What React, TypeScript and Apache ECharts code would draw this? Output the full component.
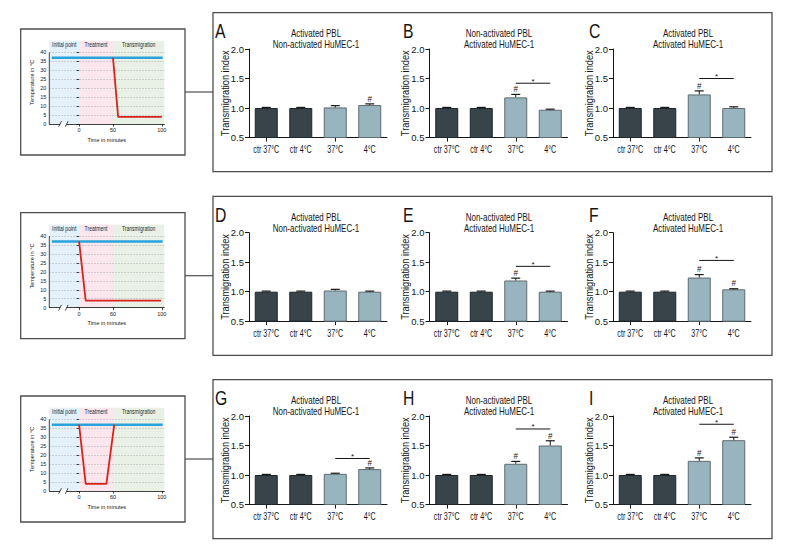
import React, { useEffect, useRef } from 'react';
import * as echarts from 'echarts';

// ---------- data ----------
const categories = ['ctr 37°C', 'ctr 4°C', '37°C', '4°C'];
const panelLetters = ['A', 'B', 'C', 'D', 'E', 'F', 'G', 'H', 'I'];
const titleTop = ['Activated PBL', 'Non-activated PBL', 'Activated PBL'];
const titleBottom = ['Non-activated HuMEC-1', 'Activated HuMEC-1', 'Activated HuMEC-1'];
const yTicks = [0.5, 1.0, 1.5, 2.0];

const meansA = [1.0, 1.0, 1.01, 1.05];
const meansB = [1.0, 1.0, 1.18, 0.97];
const meansC = [1.0, 1.0, 1.23, 1.0];
const meansD = [1.0, 1.0, 1.02, 1.0];
const meansE = [1.0, 1.0, 1.19, 1.0];
const meansF = [1.0, 1.0, 1.24, 1.04];
const meansG = [1.0, 1.0, 1.02, 1.1];
const meansH = [1.0, 1.0, 1.19, 1.5];
const meansI = [1.0, 1.0, 1.24, 1.59];

const errA = [0.01, 0.01, 0.03, 0.02];
const errB = [0.01, 0.01, 0.05, 0.01];
const errC = [0.01, 0.01, 0.06, 0.02];
const errD = [0.01, 0.01, 0.02, 0.01];
const errE = [0.01, 0.01, 0.04, 0.01];
const errF = [0.01, 0.01, 0.05, 0.01];
const errG = [0.01, 0.01, 0.01, 0.02];
const errH = [0.01, 0.01, 0.04, 0.08];
const errI = [0.01, 0.01, 0.05, 0.05];

const hashA = [0, 0, 0, 1];
const hashB = [0, 0, 1, 0];
const hashC = [0, 0, 1, 0];
const hashD = [0, 0, 0, 0];
const hashE = [0, 0, 1, 0];
const hashF = [0, 0, 1, 1];
const hashG = [0, 0, 0, 1];
const hashH = [0, 0, 1, 1];
const hashI = [0, 0, 1, 1];

// significance bar (37°C vs 4°C) level, null = none
const sigLevels = [null, 1.42, 1.5, null, 1.43, 1.53, 1.28, 1.78, 1.86];

const allMeans = [meansA, meansB, meansC, meansD, meansE, meansF, meansG, meansH, meansI];
const allErr = [errA, errB, errC, errD, errE, errF, errG, errH, errI];
const allHash = [hashA, hashB, hashC, hashD, hashE, hashF, hashG, hashH, hashI];

// temperature schematics (schematic time units)
const tempTicks = [0, 5, 10, 15, 20, 25, 30, 35, 40];
const phaseNames = ['Initial point', 'Treatment', 'Transmigration'];
const phaseBounds = [-36, 0, 41, 103];
const timeTickPos = [0, 41, 100];
const timeTickLabels1 = ['0', '50', '100'];
const timeTickLabels2 = ['0', '60', '100'];
const timeTickLabels3 = ['0', '60', '100'];
const controlLine = [[-33, 37], [101, 37]];
const coldLine1 = [[41, 37], [47.2, 4], [100, 4]];
const coldLine2 = [[0, 37], [8, 4], [99, 4]];
const coldLine3 = [[0, 37], [8, 4], [33, 4], [42.5, 37]];
const breakPos = [-23, -15];

const timeLabels = [timeTickLabels1, timeTickLabels2, timeTickLabels3];
const coldLines = [coldLine1, coldLine2, coldLine3];

// ---------- styles ----------
const FONT = "'Liberation Sans', Arial, sans-serif";
const INK = '#161616';
const DARK = '#38434a';
const DARK_BORDER = '#1f272c';
const LIGHT = '#98b4bf';
const LIGHT_BORDER = '#5e6b70';
const phaseColors = ['#e4f0fa', '#fbe6ee', '#e9f1e6'];

const colX = [249, 429.5, 613];
const rowOff = [0, 183.7, 367];
const letterX = [215, 403, 589];
const titleX = [316, 499, 688];
const PLOT_TOP = 49;
const PLOT_H = 88.5;
const PLOT_W = 138;

const errRender = (params: any, api: any) => {
  const j = api.value(0);
  const m = api.value(1);
  const e = api.value(2);
  const h = api.value(3);
  const b = api.coord([j, m]);
  const t = api.coord([j, m + e]);
  const children: any[] = [
    { type: 'line', shape: { x1: b[0], y1: b[1], x2: t[0], y2: t[1] }, style: { stroke: INK, lineWidth: 1 } },
    { type: 'line', shape: { x1: t[0] - 4.5, y1: t[1], x2: t[0] + 4.5, y2: t[1] }, style: { stroke: INK, lineWidth: 1.2 } },
  ];
  if (h) {
    children.push({
      type: 'text',
      x: t[0],
      y: t[1] - 0.5,
      scaleX: 0.85,
      style: { text: '#', fontSize: 9.5, fontFamily: FONT, fill: INK, align: 'center', verticalAlign: 'bottom' },
    });
  }
  return { type: 'group', children };
};

const sigRender = (params: any, api: any) => {
  const a = api.coord([api.value(0), api.value(2)]);
  const b = api.coord([api.value(1), api.value(2)]);
  return {
    type: 'group',
    children: [
      { type: 'line', shape: { x1: a[0], y1: a[1], x2: b[0], y2: b[1] }, style: { stroke: INK, lineWidth: 1 } },
      {
        type: 'text',
        x: (a[0] + b[0]) / 2,
        y: a[1] + 2,
        style: { text: '*', fontSize: 8, fontFamily: FONT, fill: INK, align: 'center', verticalAlign: 'bottom' },
      },
    ],
  };
};

const catLabelRender = (params: any, api: any) => {
  const j = api.value(0);
  const pt = api.coord([j, 0.5]);
  return {
    type: 'text',
    x: pt[0],
    y: pt[1] + 12,
    scaleX: 0.68,
    style: {
      text: categories[j],
      fontSize: 10.5,
      fontFamily: FONT,
      fill: INK,
      align: 'center',
      verticalAlign: 'middle',
    },
  };
};

const phaseLabelRender = (params: any, api: any) => {
  const k = api.value(1);
  const pt = api.coord([api.value(0), 46.5]);
  return {
    type: 'text',
    x: pt[0],
    y: pt[1] + 4,
    scaleX: 0.78,
    style: {
      text: phaseNames[k],
      fontSize: 6.5,
      fontFamily: FONT,
      fill: '#2a2a2a',
      align: 'center',
      verticalAlign: 'middle',
    },
  };
};

const decorRender = (params: any, api: any) => {
  const x0 = api.value(0);
  const p0 = api.coord([x0, 0]);
  const p1 = api.coord([x0, 40]);
  const children: any[] = [
    { type: 'line', shape: { x1: p0[0], y1: p0[1], x2: p1[0], y2: p1[1] }, style: { stroke: INK, lineWidth: 0.8 } },
  ];
  const g0 = api.coord([breakPos[0], 0]);
  const g1 = api.coord([breakPos[1], 0]);
  children.push({
    type: 'rect',
    shape: { x: g0[0], y: g0[1] - 1.5, width: g1[0] - g0[0], height: 3 },
    style: { fill: '#ffffff' },
  });
  breakPos.forEach((bx) => {
    const c = api.coord([bx, 0]);
    children.push({
      type: 'line',
      shape: { x1: c[0] - 1.4, y1: c[1] + 2.8, x2: c[0] + 1.4, y2: c[1] - 2.8 },
      style: { stroke: INK, lineWidth: 0.8 },
    });
  });
  return { type: 'group', children };
};

function buildOption() {
  const grid: any[] = [];
  const xAxis: any[] = [];
  const yAxis: any[] = [];
  const series: any[] = [];
  const graphic: any[] = [];

  for (let p = 0; p < 9; p++) {
    const r = Math.floor(p / 3);
    const c = p % 3;
    grid.push({ left: colX[c], top: PLOT_TOP + rowOff[r], width: PLOT_W, height: PLOT_H });
    xAxis.push({
      type: 'category',
      gridIndex: p,
      data: categories,
      axisLine: { show: true, lineStyle: { color: INK, width: 1 } },
      axisTick: { show: true, alignWithLabel: true, length: 4, lineStyle: { color: INK } },
      axisLabel: { show: false },
    });
    yAxis.push({
      type: 'value',
      gridIndex: p,
      min: 0.5,
      max: 2.0,
      interval: 0.5,
      axisLine: { show: true, lineStyle: { color: INK, width: 1 } },
      axisTick: { show: true, length: 4, customValues: yTicks, lineStyle: { color: INK } },
      axisLabel: {
        customValues: yTicks,
        formatter: (v: number) => v.toFixed(1),
        fontSize: 9.5,
        margin: 5,
        color: INK,
        fontFamily: FONT,
      },
      splitLine: { show: false },
    });
    const means = allMeans[p];
    series.push({
      type: 'bar',
      xAxisIndex: p,
      yAxisIndex: p,
      barWidth: 23,
      silent: true,
      data: means.map((v, j) => ({
        value: v,
        itemStyle: {
          color: j < 2 ? DARK : LIGHT,
          borderColor: j < 2 ? DARK_BORDER : LIGHT_BORDER,
          borderWidth: 1,
        },
      })),
    });
    series.push({
      type: 'custom',
      xAxisIndex: p,
      yAxisIndex: p,
      silent: true,
      z: 5,
      renderItem: errRender,
      data: means.map((v, j) => [j, v, allErr[p][j], allHash[p][j]]),
    });
    series.push({
      type: 'custom',
      xAxisIndex: p,
      yAxisIndex: p,
      silent: true,
      z: 5,
      renderItem: catLabelRender,
      data: categories.map((_, j) => [j, 0.5]),
    });
    if (sigLevels[p] != null) {
      series.push({
        type: 'custom',
        xAxisIndex: p,
        yAxisIndex: p,
        silent: true,
        z: 5,
        renderItem: sigRender,
        data: [[2, 3, sigLevels[p]]],
      });
    }
    graphic.push({
      type: 'text',
      x: letterX[c],
      y: 31 + rowOff[r],
      scaleX: 0.75,
      style: { text: panelLetters[p], fontSize: 21, fontFamily: FONT, fill: INK, verticalAlign: 'middle' },
    });
    graphic.push({
      type: 'text',
      x: titleX[c],
      y: 28.5 + rowOff[r],
      scaleX: 0.8,
      style: {
        text: titleTop[c] + '\n' + titleBottom[c],
        fontSize: 10,
        lineHeight: 11,
        fontFamily: FONT,
        fill: INK,
        align: 'center',
        verticalAlign: 'top',
      },
    });
    graphic.push({
      type: 'text',
      x: colX[c] - 24,
      y: PLOT_TOP + rowOff[r] + PLOT_H / 2,
      rotation: Math.PI / 2,
      scaleX: 0.84,
      style: {
        text: 'Transmigration index',
        fontSize: 11,
        fontFamily: FONT,
        fill: INK,
        align: 'center',
        verticalAlign: 'middle',
      },
    });
  }

  for (let r = 0; r < 3; r++) {
    const gi = 9 + r;
    grid.push({ left: 49.3, top: 40.7 + rowOff[r], width: 115, height: 83.3 });
    const labels = timeLabels[r];
    xAxis.push({
      type: 'value',
      gridIndex: gi,
      min: phaseBounds[0],
      max: phaseBounds[3],
      axisLine: { show: true, lineStyle: { color: INK, width: 0.8 } },
      axisTick: { show: true, customValues: timeTickPos, length: 2.5, lineStyle: { color: INK, width: 0.8 } },
      axisLabel: {
        customValues: timeTickPos,
        formatter: (v: number) => labels[timeTickPos.indexOf(v)] ?? '',
        fontSize: 5.5,
        margin: 3,
        color: INK,
        fontFamily: FONT,
      },
      splitLine: { show: false },
      name: 'Time in minutes',
      nameLocation: 'middle',
      nameGap: 12.5,
      nameTextStyle: { fontSize: 5.5, color: INK, fontFamily: FONT },
    });
    yAxis.push({
      type: 'value',
      gridIndex: gi,
      min: 0,
      max: 46.5,
      interval: 5,
      axisLine: { show: false },
      axisTick: { show: true, customValues: tempTicks, length: 2.5, lineStyle: { color: INK, width: 0.8 } },
      axisLabel: { customValues: tempTicks, fontSize: 5.5, margin: 3, color: INK, fontFamily: FONT },
      splitLine: { show: true, lineStyle: { type: [1.5, 1.5], color: '#a3a3a3', width: 0.6 } },
      name: 'Temperature in °C',
      nameLocation: 'middle',
      nameRotate: 90,
      nameGap: 14,
      nameTextStyle: { fontSize: 5.6, color: INK, fontFamily: FONT },
    });
    series.push({
      type: 'line',
      xAxisIndex: gi,
      yAxisIndex: gi,
      z: -1,
      silent: true,
      symbol: 'none',
      data: controlLine,
      lineStyle: { opacity: 0 },
      markArea: {
        silent: true,
        z: -1,
        label: { show: false },
        data: phaseNames.map((n, k) => [
          { xAxis: phaseBounds[k], itemStyle: { color: phaseColors[k] } },
          { xAxis: phaseBounds[k + 1] },
        ]),
      },
    });
    series.push({
      type: 'custom',
      xAxisIndex: gi,
      yAxisIndex: gi,
      z: 6,
      silent: true,
      renderItem: phaseLabelRender,
      data: phaseNames.map((_, k) => [(phaseBounds[k] + phaseBounds[k + 1]) / 2, k]),
    });
    series.push({
      type: 'line',
      xAxisIndex: gi,
      yAxisIndex: gi,
      z: 3,
      silent: true,
      symbol: 'none',
      data: controlLine,
      lineStyle: { color: '#2aa3dc', width: 2.5 },
    });
    series.push({
      type: 'line',
      xAxisIndex: gi,
      yAxisIndex: gi,
      z: 4,
      silent: true,
      symbol: 'none',
      data: coldLines[r],
      lineStyle: { color: '#d8231c', width: 1.8 },
    });
    series.push({
      type: 'custom',
      xAxisIndex: gi,
      yAxisIndex: gi,
      z: 6,
      silent: true,
      renderItem: decorRender,
      data: [[phaseBounds[0], 0]],
    });

    graphic.push({
      type: 'rect',
      shape: { x: 20.7, y: 29 + rowOff[r], width: 164.3, height: 126 },
      style: { fill: 'none', stroke: '#4d4d4d', lineWidth: 1.3 },
    });
    graphic.push({
      type: 'rect',
      shape: { x: 213, y: 12.7 + rowOff[r], width: 559, height: 159 },
      style: { fill: 'none', stroke: '#4d4d4d', lineWidth: 1.3 },
    });
    graphic.push({
      type: 'line',
      shape: { x1: 185, y1: 92 + rowOff[r], x2: 213, y2: 92 + rowOff[r] },
      style: { stroke: '#4d4d4d', lineWidth: 1.2 },
    });
  }

  return {
    animation: false,
    backgroundColor: '#ffffff',
    textStyle: { fontFamily: FONT },
    grid,
    xAxis,
    yAxis,
    series,
    graphic,
  };
}

export default function App() {
  const ref = useRef<HTMLDivElement>(null);
  useEffect(() => {
    if (!ref.current) return;
    const chart = echarts.init(ref.current, undefined, { renderer: 'svg' });
    chart.setOption(buildOption() as any);
    return () => chart.dispose();
  }, []);
  return (
    <div
      ref={ref}
      style={{ position: 'absolute', left: 0, top: 0, width: 792, height: 552, background: '#fff' }}
    />
  );
}
